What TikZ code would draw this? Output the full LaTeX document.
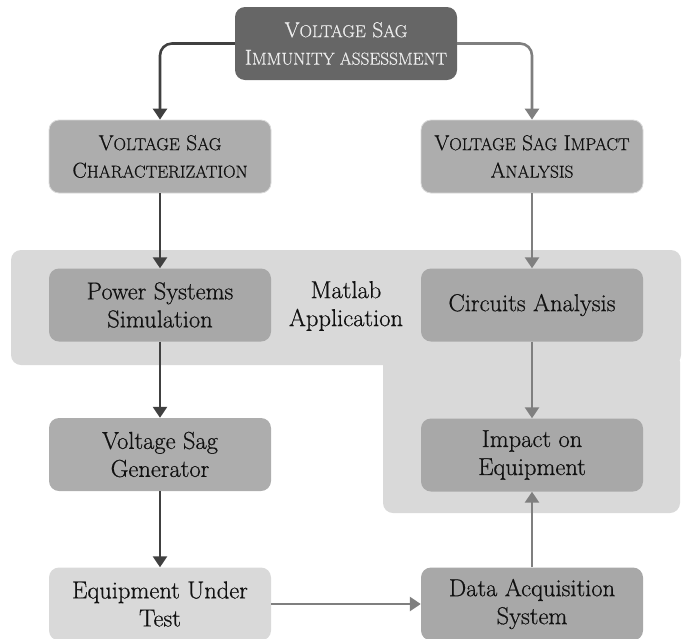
\documentclass[tikz,border=0pt]{standalone}
\usepackage{fontspec}
\setmainfont{Latin Modern Roman}[FakeBold=0.6]
\usetikzlibrary{arrows.meta}
\definecolor{topfill}{HTML}{666666}
\definecolor{midfill}{HTML}{ADADAD}
\definecolor{darkfill}{HTML}{A8A8A8}
\definecolor{lightfill}{HTML}{D9D9D9}
\definecolor{darkline}{HTML}{404040}
\definecolor{grayline}{HTML}{7F7F7F}
\definecolor{textcol}{HTML}{111111}
\newcommand\smc[1]{{\fontsize{17.3}{27}\selectfont #1}}
\tikzset{
  box/.style={rounded corners=10pt, minimum width=222pt, minimum height=73pt,
    inner sep=0pt, align=center, text=textcol, font=\fontsize{24.5}{28}\selectfont},
  scbox/.style={font=\fontsize{21.5}{27.5}\selectfont},
  topbox/.style={box, scbox, fill=topfill, text=white!93!black},
  headbox/.style={box, scbox, fill=midfill, draw=white!85!black, line width=0.8pt},
  procbox/.style={box, fill=darkfill},
  lightbox/.style={box, fill=lightfill},
  region/.style={fill=lightfill, rounded corners=10pt},
  darrow/.style={draw=darkline, line width=2.6pt, -{Triangle[width=14pt,length=11pt]}},
  garrow/.style={draw=grayline, line width=2.6pt, -{Triangle[width=14pt,length=11pt]}},
}
\begin{document}
\begin{tikzpicture}[x=1pt,y=-1pt]
\useasboundingbox (0,0) rectangle (682,638);
% background regions
\fill[region] (383,352) rectangle (680,513);
\fill[region] (11,250) rectangle (681,365);
% nodes
\node[topbox] (top) at (346,43.5) {V\smc{OLTAGE} S\smc{AG}\\I\smc{MMUNITY ASSESSMENT}};
\node[headbox] (char) at (160,156.5) {V\smc{OLTAGE} S\smc{AG}\\C\smc{HARACTERIZATION}};
\node[headbox] (imp) at (532,156.5) {V\smc{OLTAGE} S\smc{AG} I\smc{MPACT}\\A\smc{NALYSIS}};
\node[procbox] (pss) at (160,305) {Power Systems\\Simulation};
\node[procbox] (ca) at (532,305) {Circuits Analysis};
\node[box, minimum width=0pt, minimum height=0pt] (mat) at (346,306) {Matlab\\Application};
\node[procbox, fill=midfill] (vsg) at (160,454.5) {Voltage Sag\\Generator};
\node[procbox] (ioe) at (532,455) {Impact on\\Equipment};
\node[lightbox] (eut) at (160,604) {Equipment Under\\Test};
\node[procbox] (das) at (532,604) {Data Acquisition\\System};
% connectors
\draw[darrow, rounded corners=12pt] (top.west) -| (char.north);
\draw[garrow, rounded corners=12pt] (top.east) -| (imp.north);
\draw[darrow] (char) -- (pss);
\draw[garrow] (imp) -- (ca);
\draw[darrow] (pss) -- (vsg);
\draw[garrow] (ca) -- (ioe);
\draw[darrow] (vsg) -- (eut);
\draw[garrow] (eut) -- (das);
\draw[garrow] (das) -- (ioe);
\end{tikzpicture}
\end{document}
